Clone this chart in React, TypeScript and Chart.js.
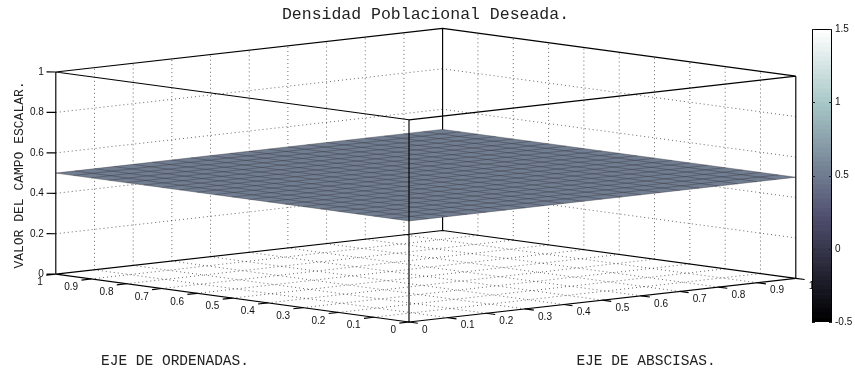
import React, { useEffect, useRef } from "react";
import { Chart, registerables } from "chart.js";

Chart.register(...registerables);

// ---------- texts ----------
const chartTitle = "Densidad Poblacional Deseada.";
const xAxisTitle = "EJE DE ABSCISAS.";
const yAxisTitle = "EJE DE ORDENADAS.";
const zAxisTitle = "VALOR DEL CAMPO ESCALAR.";

// ---------- axis ticks ----------
const xTicks = [0, 0.1, 0.2, 0.3, 0.4, 0.5, 0.6, 0.7, 0.8, 0.9, 1];
const yTicks = [0, 0.1, 0.2, 0.3, 0.4, 0.5, 0.6, 0.7, 0.8, 0.9, 1];
const zTicks = [0, 0.2, 0.4, 0.6, 0.8, 1];
const colorbarTicks = [-0.5, 0, 0.5, 1, 1.5];

// ---------- surface data: mesh nodes and the (uniform) desired density ----------
const meshX = [0, 0.05, 0.1, 0.15, 0.2, 0.25, 0.3, 0.35, 0.4, 0.45, 0.5, 0.55, 0.6, 0.65, 0.7, 0.75, 0.8, 0.85, 0.9, 0.95, 1];
const meshY = [0, 0.05, 0.1, 0.15, 0.2, 0.25, 0.3, 0.35, 0.4, 0.45, 0.5, 0.55, 0.6, 0.65, 0.7, 0.75, 0.8, 0.85, 0.9, 0.95, 1];
const desiredDensity = 0.5;
const colorLimits: [number, number] = [-0.5, 1.5];

// ---------- view / layout ----------
const VIEW_AZ_DEG = 42.4;
const VIEW_EL_DEG = 7.1;
const Z_ASPECT = 0.389;
const WIDTH = 855;
const HEIGHT = 370;
const PX_PER_UNIT = 523.8;
const ORIGIN_PX = { x: 409, y: 322 };
const TICK_LEN = 0.025;
const COLORMAP_SIZE = 64;

const MONO = '"Liberation Mono", "DejaVu Sans Mono", monospace';
const SANS = '"Liberation Sans", Arial, sans-serif';

const az = (VIEW_AZ_DEG * Math.PI) / 180;
const el = (VIEW_EL_DEG * Math.PI) / 180;

type P3 = [number, number, number];
type P2 = { x: number | null; y: number | null };

// orthographic projection of a point of the unit box
function project([x, y, z]: P3): P2 {
  const u = x * Math.cos(az) - y * Math.sin(az);
  const depth = x * Math.sin(az) + y * Math.cos(az);
  const v = depth * Math.sin(el) + Z_ASPECT * z * Math.cos(el);
  return { x: u, y: v };
}

const GAP: P2 = { x: null, y: null };
function polylines(paths: P3[][]): P2[] {
  const out: P2[] = [];
  paths.forEach((path, i) => {
    if (i > 0) out.push(GAP);
    path.forEach((p) => out.push(project(p)));
  });
  return out;
}

// MATLAB-style "bone" colormap
function boneMap(m: number): string[] {
  const n = Math.floor((3 / 8) * m);
  const out: string[] = [];
  for (let i = 0; i < m; i++) {
    const k = i + 1;
    const hr = k <= n ? k / n : 1;
    const hg = k <= n ? 0 : k <= 2 * n ? (k - n) / n : 1;
    const hb = k <= 2 * n ? 0 : (k - 2 * n) / (m - 2 * n);
    const g = i / (m - 1);
    const r = (7 * g + hb) / 8;
    const gg = (7 * g + hg) / 8;
    const b = (7 * g + hr) / 8;
    out.push(`rgb(${Math.round(r * 255)},${Math.round(gg * 255)},${Math.round(b * 255)})`);
  }
  return out;
}
const bone = boneMap(COLORMAP_SIZE);
function colorFor(v: number): string {
  const [lo, hi] = colorLimits;
  let idx = Math.floor(((v - lo) / (hi - lo)) * COLORMAP_SIZE);
  idx = Math.max(0, Math.min(COLORMAP_SIZE - 1, idx));
  return bone[idx];
}

const inner = (t: number[]) => t.slice(1, -1);
const fmt = (v: number) => String(Math.round(v * 10) / 10);

// ---------- geometry built from the data ----------
const visibleEdges: P3[][] = [
  [[0, 1, 1], [1, 1, 1]],
  [[1, 1, 1], [1, 0, 1]],
  [[1, 0, 1], [0, 0, 1]],
  [[0, 0, 1], [0, 1, 1]],
  [[0, 1, 0], [0, 1, 1]],
  [[1, 0, 0], [1, 0, 1]],
  [[0, 0, 0], [0, 0, 1]],
  [[0, 1, 0], [1, 1, 0]],
  [[1, 1, 0], [1, 0, 0]],
  [[0, 0, 0], [0, 1, 0]],
  [[0, 0, 0], [1, 0, 0]],
];
const hiddenEdges: P3[][] = [[[1, 1, 0], [1, 1, 1]]];

const tickPaths: P3[][] = [
  ...xTicks.map((t): P3[] => [[t, 0, 0], [t, -TICK_LEN, 0]]),
  ...yTicks.map((t): P3[] => [[0, t, 0], [-TICK_LEN, t, 0]]),
  ...zTicks.map((t): P3[] => [[0, 1, t], [-TICK_LEN / 2, 1 + TICK_LEN / 2, t]]),
];

const gridPaths: P3[][] = [
  ...inner(xTicks).map((t): P3[] => [[t, 0, 0], [t, 1, 0]]),
  ...inner(yTicks).map((t): P3[] => [[0, t, 0], [1, t, 0]]),
  ...inner(xTicks).map((t): P3[] => [[t, 1, 0], [t, 1, 1]]),
  ...inner(zTicks).map((t): P3[] => [[0, 1, t], [1, 1, t]]),
  ...inner(yTicks).map((t): P3[] => [[1, t, 0], [1, t, 1]]),
  ...inner(zTicks).map((t): P3[] => [[1, 0, t], [1, 1, t]]),
];

const meshPaths: P3[][] = [
  ...meshX.map((x) => meshY.map((y): P3 => [x, y, desiredDensity])),
  ...meshY.map((y) => meshX.map((x): P3 => [x, y, desiredDensity])),
];

const xLast = meshX[meshX.length - 1];
const yLast = meshY[meshY.length - 1];
const surfaceBack: P3[] = [[meshX[0], yLast, desiredDensity], [xLast, yLast, desiredDensity], [xLast, meshY[0], desiredDensity]];
const surfaceFront: P3[] = [[meshX[0], yLast, desiredDensity], [meshX[0], meshY[0], desiredDensity], [xLast, meshY[0], desiredDensity]];

function lineDataset(label: string, data: P2[], color: string, width: number, extra: any = {}) {
  return {
    label,
    data,
    showLine: true,
    borderColor: color,
    borderWidth: width,
    pointRadius: 0,
    fill: false,
    tension: 0,
    ...extra,
  };
}

// text of the 3-D axes (tick labels, axis titles, title)
const axesTextPlugin = {
  id: "axesText",
  afterDraw(chart: any) {
    const { ctx } = chart;
    const sx = chart.scales.x;
    const sy = chart.scales.y;
    const toPx = (p: P3) => {
      const q = project(p);
      return [sx.getPixelForValue(q.x), sy.getPixelForValue(q.y)];
    };
    ctx.save();
    ctx.fillStyle = "#111";
    ctx.textBaseline = "middle";
    ctx.font = `10px ${SANS}`;

    ctx.textAlign = "left";
    xTicks.forEach((t) => {
      const [px, py] = toPx([t, 0, 0]);
      ctx.fillText(fmt(t), px + 13, py + 8);
    });
    ctx.textAlign = "right";
    yTicks.forEach((t) => {
      const [px, py] = toPx([0, t, 0]);
      ctx.fillText(fmt(t), px - 13, py + 8.5);
    });
    zTicks.forEach((t) => {
      const [px, py] = toPx([0, 1, t]);
      ctx.fillText(fmt(t), px - 12, py);
    });

    ctx.fillStyle = "#222";
    ctx.textAlign = "center";
    ctx.font = `16.5px ${MONO}`;
    ctx.fillText(chartTitle, WIDTH / 2 - 2, 15);
    ctx.font = `14.5px ${MONO}`;
    ctx.fillText(yAxisTitle, 175, 361);
    ctx.fillText(xAxisTitle, 646, 361);
    ctx.save();
    ctx.translate(20, 175);
    ctx.rotate(-Math.PI / 2);
    ctx.font = `13px ${MONO}`;
    ctx.fillText(zAxisTitle, 0, 0);
    ctx.restore();
    ctx.restore();
  },
};

// frame and inward tick marks of the colour bar
const colorbarFramePlugin = {
  id: "colorbarFrame",
  afterDraw(chart: any) {
    const { ctx, chartArea } = chart;
    const sy = chart.scales.y;
    ctx.save();
    ctx.strokeStyle = "#000";
    ctx.lineWidth = 1;
    ctx.strokeRect(chartArea.left + 0.5, chartArea.top + 0.5, chartArea.right - chartArea.left - 1, chartArea.bottom - chartArea.top - 1);
    ctx.strokeStyle = "#222";
    colorbarTicks.forEach((v) => {
      const y = Math.round(sy.getPixelForValue(v)) + 0.5;
      ctx.beginPath();
      ctx.moveTo(chartArea.left, y);
      ctx.lineTo(chartArea.left + 3, y);
      ctx.moveTo(chartArea.right - 3, y);
      ctx.lineTo(chartArea.right, y);
      ctx.stroke();
    });
    ctx.restore();
  },
};

export default function App() {
  const mainRef = useRef<HTMLCanvasElement | null>(null);
  const barRef = useRef<HTMLCanvasElement | null>(null);

  useEffect(() => {
    if (!mainRef.current || !barRef.current) return;

    const faceColor = colorFor(desiredDensity);

    const main = new Chart(mainRef.current, {
      type: "scatter",
      data: {
        datasets: [
          lineDataset("box", polylines(visibleEdges), "#000", 1.15),
          lineDataset("ticks", polylines(tickPaths), "#000", 1.15),
          lineDataset("mesh", polylines(meshPaths), "rgba(55,55,62,0.42)", 1),
          lineDataset("surface", polylines([surfaceBack]), "rgba(0,0,0,0)", 1, {
            fill: "+1",
            backgroundColor: faceColor,
          }),
          lineDataset("surface front", polylines([surfaceFront]), "rgba(0,0,0,0)", 1),
          lineDataset("back edge", polylines(hiddenEdges), "#000", 1.15),
          lineDataset("grid", polylines(gridPaths), "rgba(0,0,0,0.6)", 1, { borderDash: [1, 3] }),
        ],
      } as any,
      options: {
        responsive: false,
        animation: false,
        events: [],
        layout: { padding: 0 },
        plugins: {
          legend: { display: false },
          tooltip: { enabled: false },
          title: { display: false },
        },
        scales: {
          x: {
            type: "linear",
            display: false,
            min: -ORIGIN_PX.x / PX_PER_UNIT,
            max: (WIDTH - ORIGIN_PX.x) / PX_PER_UNIT,
          },
          y: {
            type: "linear",
            display: false,
            min: -(HEIGHT - ORIGIN_PX.y) / PX_PER_UNIT,
            max: ORIGIN_PX.y / PX_PER_UNIT,
          },
        },
      } as any,
      plugins: [axesTextPlugin],
    });

    const [lo, hi] = colorLimits;
    const step = (hi - lo) / COLORMAP_SIZE;
    const colorbar = new Chart(barRef.current, {
      type: "bar",
      data: {
        labels: [""],
        datasets: bone.map((c, i) => ({
          data: [[lo + i * step, lo + (i + 1) * step]],
          backgroundColor: c,
          borderWidth: 0,
          barPercentage: 1,
          categoryPercentage: 1,
          grouped: false,
        })),
      } as any,
      options: {
        responsive: false,
        animation: false,
        events: [],
        layout: { padding: { left: 16, top: 15, bottom: 12, right: 0 } },
        plugins: { legend: { display: false }, tooltip: { enabled: false } },
        scales: {
          x: { display: false },
          y: {
            position: "right",
            min: lo,
            max: hi,
            grid: { display: false, drawTicks: false, tickLength: 0 },
            border: { display: false },
            afterBuildTicks: (s: any) => {
              s.ticks = colorbarTicks.map((v) => ({ value: v }));
            },
            afterFit: (s: any) => {
              s.width = 23;
            },
            ticks: {
              font: { family: SANS, size: 10 },
              color: "#111",
              padding: 3,
              callback: (v: number) => String(v),
            },
          },
        },
      } as any,
      plugins: [colorbarFramePlugin],
    });

    return () => {
      main.destroy();
      colorbar.destroy();
    };
  }, []);

  return (
    <div style={{ position: "fixed", left: 0, top: 0, width: WIDTH, height: HEIGHT, background: "#fff", overflow: "hidden" }}>
      <canvas ref={mainRef} width={WIDTH} height={HEIGHT} style={{ position: "absolute", left: 0, top: 0 }} />
      <canvas ref={barRef} width={59} height={320} style={{ position: "absolute", left: 796, top: 14 }} />
    </div>
  );
}
